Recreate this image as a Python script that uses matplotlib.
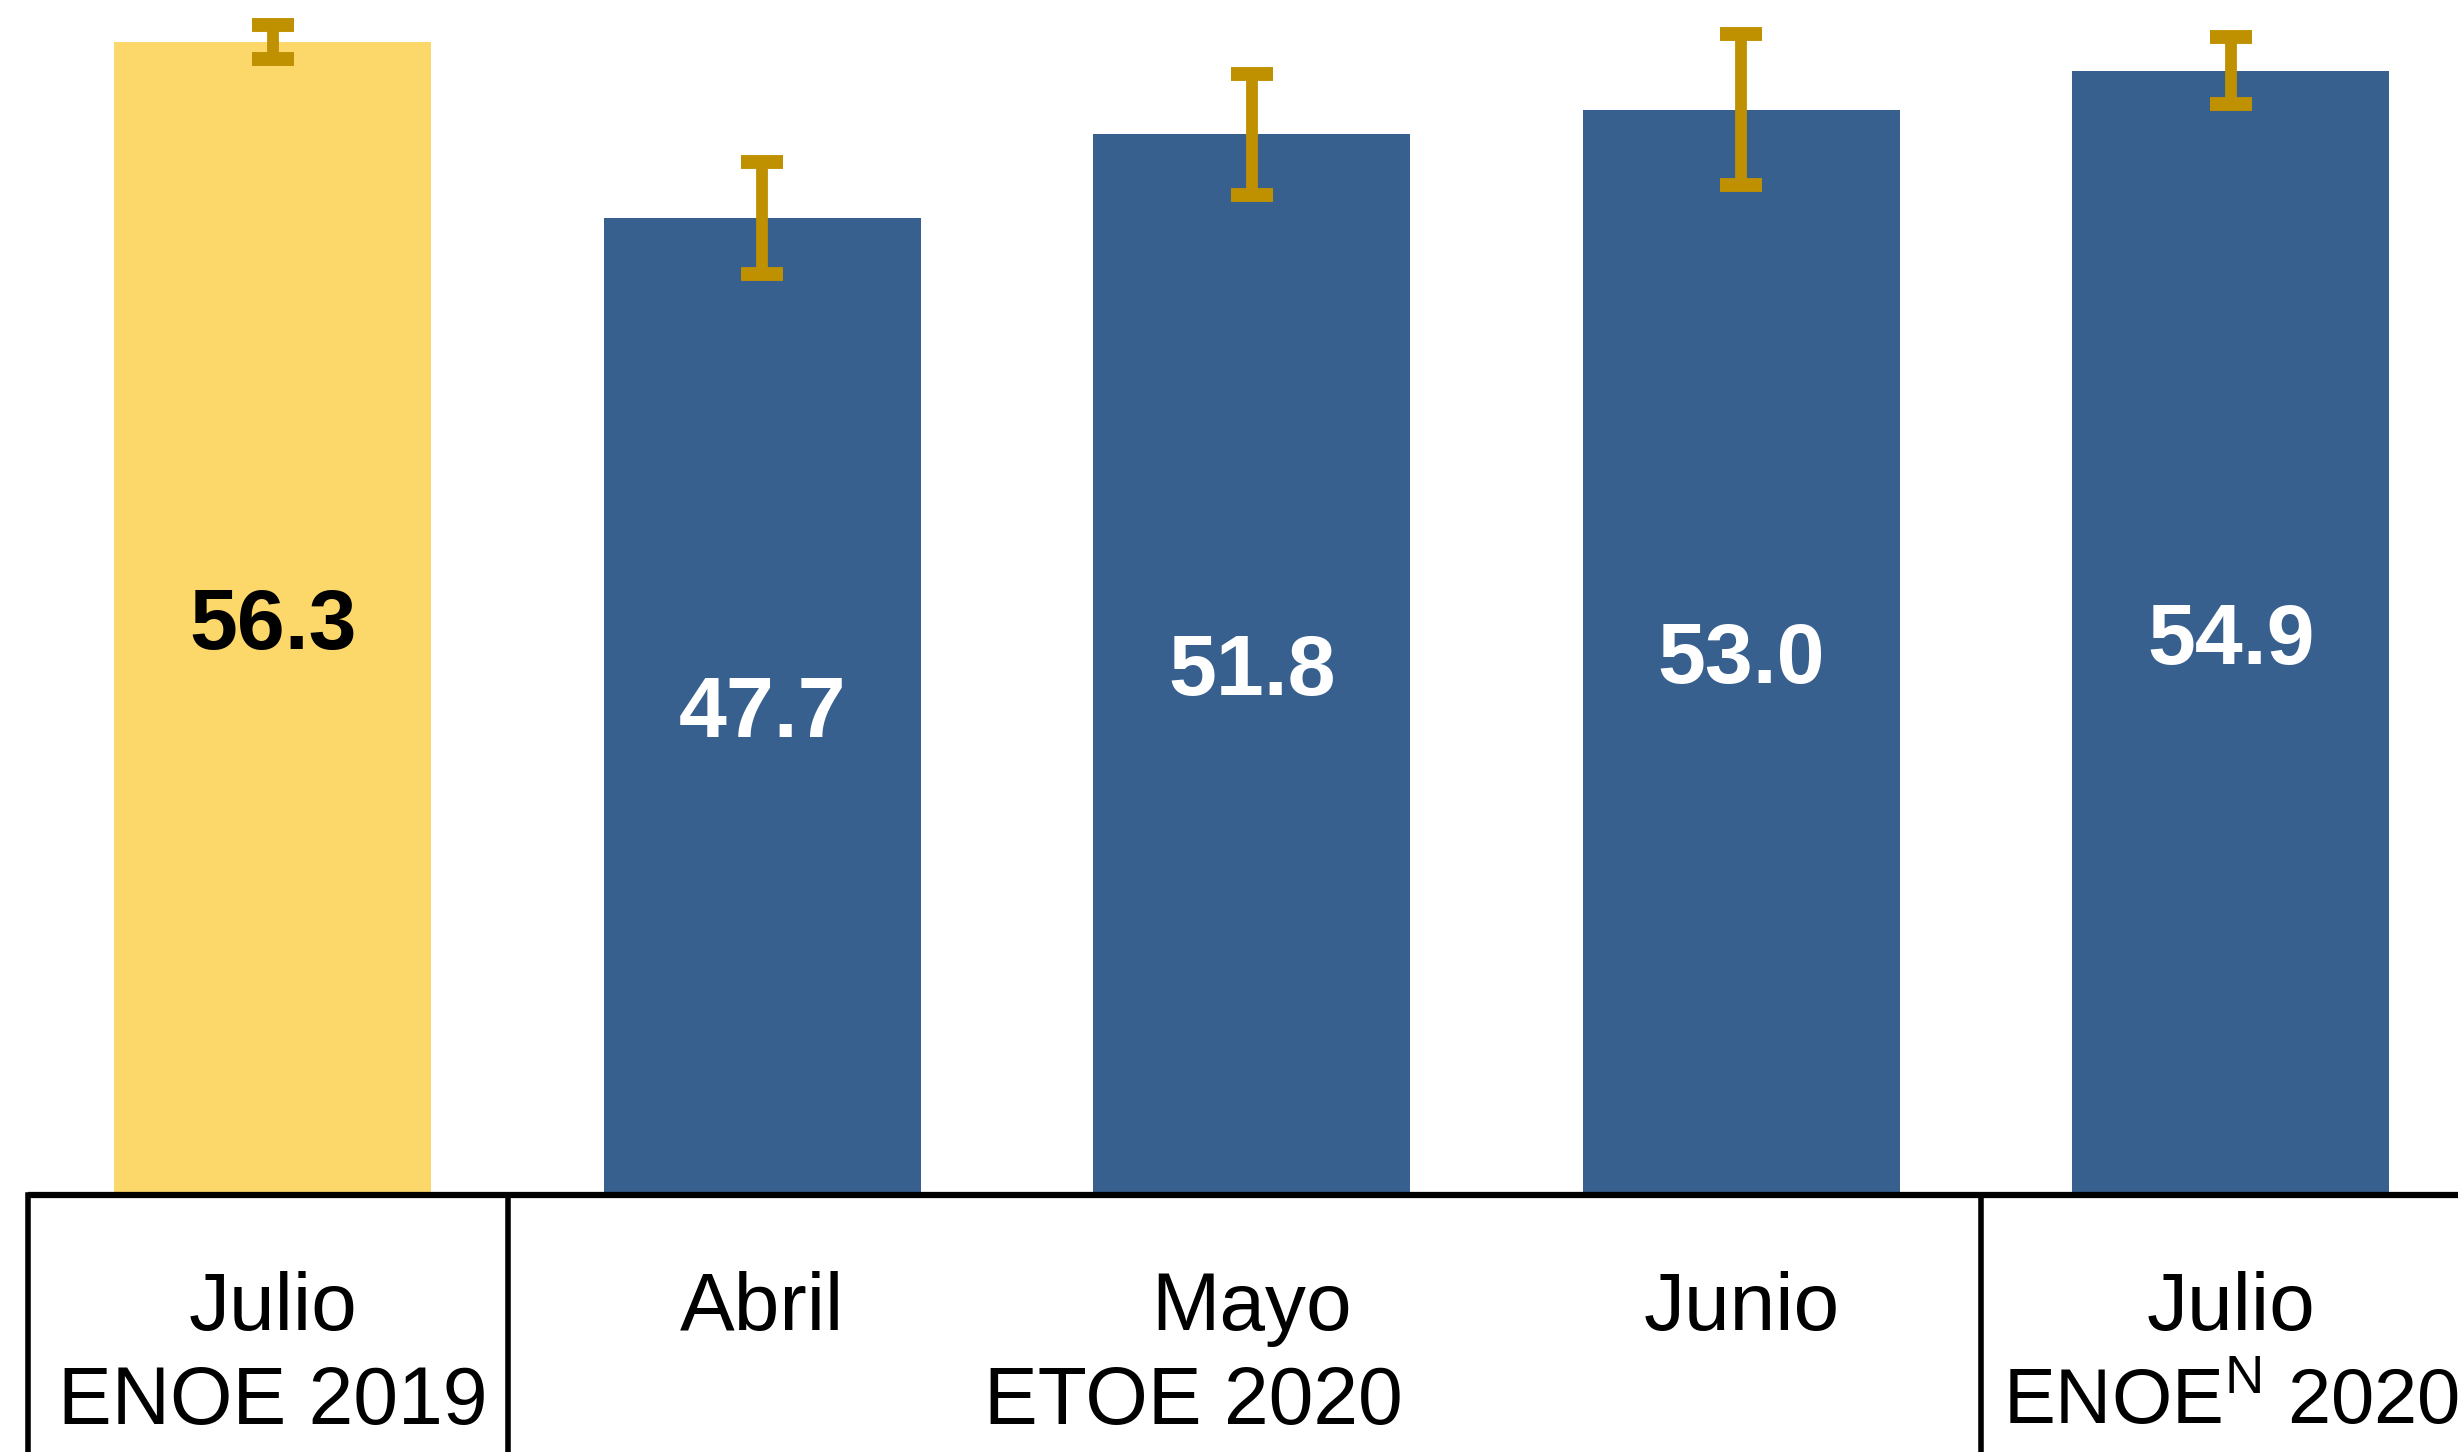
import matplotlib.pyplot as plt

meses = ['Julio', 'Abril', 'Mayo', 'Junio', 'Julio']
valores = [56.3, 47.7, 51.8, 53.0, 54.9]
errores = [0.84, 2.75, 2.95, 3.7, 1.65]
colores = ['#FCD86A', '#37608F', '#37608F', '#37608F', '#37608F']
colores_texto = ['black', 'white', 'white', 'white', 'white']
encuestas = ['ENOE 2019', 'ETOE 2020', r'ENOE$^{\mathrm{N}}$ 2020']
encuestas_x = [0.0, 1.88, 4.0]
encuestas_size = [58, 58, 56]
divisiones = [-0.50, 0.48, 3.49]

plt.rcParams['font.family'] = ['Liberation Sans', 'DejaVu Sans']
plt.rcParams['mathtext.fontset'] = 'custom'
plt.rcParams['mathtext.rm'] = 'Liberation Sans'


def plot_chart():
    fig = plt.figure(figsize=(24.58, 14.52), dpi=100)
    ax = fig.add_axes([0, 0, 1, 1])
    x = list(range(len(valores)))

    ax.bar(x, valores, width=0.647, color=colores, zorder=1)
    ax.errorbar(x, valores, yerr=errores, fmt='none', ecolor='#BF9000',
                elinewidth=8.5, capsize=15, capthick=10, zorder=2)

    for xi, v, c in zip(x, valores, colores_texto):
        ax.text(xi, v / 2, f'{v:.1f}', ha='center', va='center_baseline', color=c,
                fontsize=62, fontweight='bold')

    # tabla inferior
    ax.plot([divisiones[0], 10], [0, 0], color='black', lw=4.5, clip_on=False,
            solid_capstyle='butt', zorder=3)
    for d in divisiones:
        ax.plot([d, d], [0, -20], color='black', lw=4, clip_on=False, zorder=3)

    for xi, m in zip(x, meses):
        ax.text(xi, -6.58, m, ha='center', va='baseline', fontsize=59)
    for xe, e, s in zip(encuestas_x, encuestas, encuestas_size):
        ax.text(xe, -11.18, e, ha='center', va='baseline', fontsize=s)

    ax.set_xlim(-0.557, 4.464)
    ax.set_ylim(-12.56, 58.35)
    ax.axis('off')
    fig.savefig('out.png', dpi=100)
    plt.close(fig)


if __name__ == '__main__':
    plot_chart()
